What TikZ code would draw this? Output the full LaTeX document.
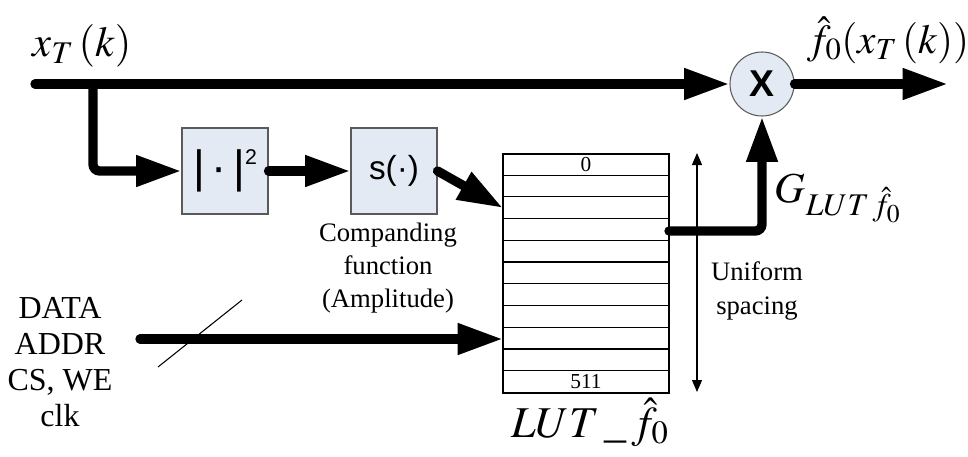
\documentclass[tikz,border=0pt]{standalone}
\usepackage{mathptmx}
\usepackage{fontspec}
\setmainfont{Liberation Serif}
\setsansfont{Liberation Sans}
\usetikzlibrary{arrows.meta}
\definecolor{boxfill}{HTML}{E4EAF4}
\definecolor{boxdraw}{HTML}{5A5A5A}
\tikzset{
  bigarrow/.style={line width=7pt, line cap=round, -{Triangle[length=34pt,width=22pt]}},
  blk/.style={draw=boxdraw, fill=boxfill, line width=0.8pt, minimum width=64.5pt, minimum height=64.5pt, inner sep=0pt},
  circ/.style={circle, draw=boxdraw, fill=boxfill, line width=0.8pt, minimum size=48pt, inner sep=0pt},
  lbl/.style={inner sep=0pt, align=center},
}
\begin{document}
\begin{tikzpicture}[x=0.75pt,y=-0.75pt]
\useasboundingbox (0,0) rectangle (968,457);

% blocks
\node[circ] (mul) at (762,84) {\sffamily\bfseries\fontsize{28}{28}\selectfont X};
\node[blk] (sq) at (225,171) {\sffamily\fontsize{34}{34}\selectfont |\hspace{5pt}·\hspace{5pt}|\raisebox{14pt}{\fontsize{16}{16}\selectfont 2}\hspace{-3pt}};
\node[blk] (s) at (394,171) {\sffamily\fontsize{25}{25}\selectfont s(·)};

% LUT table
\node[draw, line width=0.9pt, minimum width=124.5pt, minimum height=179.25pt, inner sep=0pt] (lut) at (586,273.5) {};
\foreach \i in {1,...,10} {
  \draw[line width=0.9pt] ([yshift=-\i*16.295pt]lut.north west) -- ([yshift=-\i*16.295pt]lut.north east);
}
\node[lbl, font=\rmfamily\fontsize{16}{16}\selectfont] (r0) at (586,165) {0};
\node[lbl, font=\rmfamily\fontsize{16}{16}\selectfont] (r511) at (586,382) {511};

% coordinates
\coordinate (in) at (35,84);
\coordinate (br) at (93,84);
\coordinate (out) at (948,84);
\coordinate (lutout) at (669,231);
\coordinate (lutin1) at (503,208);
\coordinate (lutin2) at (503,339);
\coordinate (dat) at (140,339);
\coordinate (sl1) at (158,367);
\coordinate (sl2) at (242,300);
\coordinate (us1) at (697,153);
\coordinate (us2) at (697,392);

% connectors
\draw[bigarrow] (in) -- (mul.west);
\draw[bigarrow, rounded corners=5pt] (br) |- (sq.west);
\draw[bigarrow] (sq.east) -- (s.west);
\draw[bigarrow] (s.east) -- (lutin1);
\draw[bigarrow, rounded corners=5pt] (lutout) -| (mul.south);
\draw[bigarrow] (mul.east) -- (out);
\draw[bigarrow] (dat) -- (lutin2);
\draw[line width=0.8pt] (sl1) -- (sl2);
\draw[line width=0.8pt, {Triangle[length=9pt,width=7.5pt]}-{Triangle[length=9pt,width=7.5pt]}] (us1) -- (us2);

% labels
\node[lbl] (xl) at (82,46) {\fontsize{32}{34}\selectfont $x_T\,(k)$};
\node[lbl] (yl) at (888,40) {\fontsize{31}{34}\selectfont $\hat{f}_0(x_T\,(k))$};
\node[lbl] (gl) at (838,198) {\fontsize{32}{34}\selectfont $G_{LUT\,\hat{f}_0}$};
\node[lbl] (ll) at (590,422) {\fontsize{33}{35}\selectfont $LUT\,\_\,\hat{f}_0$};
\node[lbl, font=\rmfamily\fontsize{20}{25}\selectfont] (comp) at (388,268) {Companding\\function\\(Amplitude)};
\node[lbl, font=\rmfamily\fontsize{20}{25}\selectfont] (unif) at (757,291) {Uniform\\spacing};
\node[lbl, font=\rmfamily\fontsize{24}{27}\selectfont] (data) at (60,362) {DATA\\ADDR\\CS, WE\\clk};
\end{tikzpicture}
\end{document}
